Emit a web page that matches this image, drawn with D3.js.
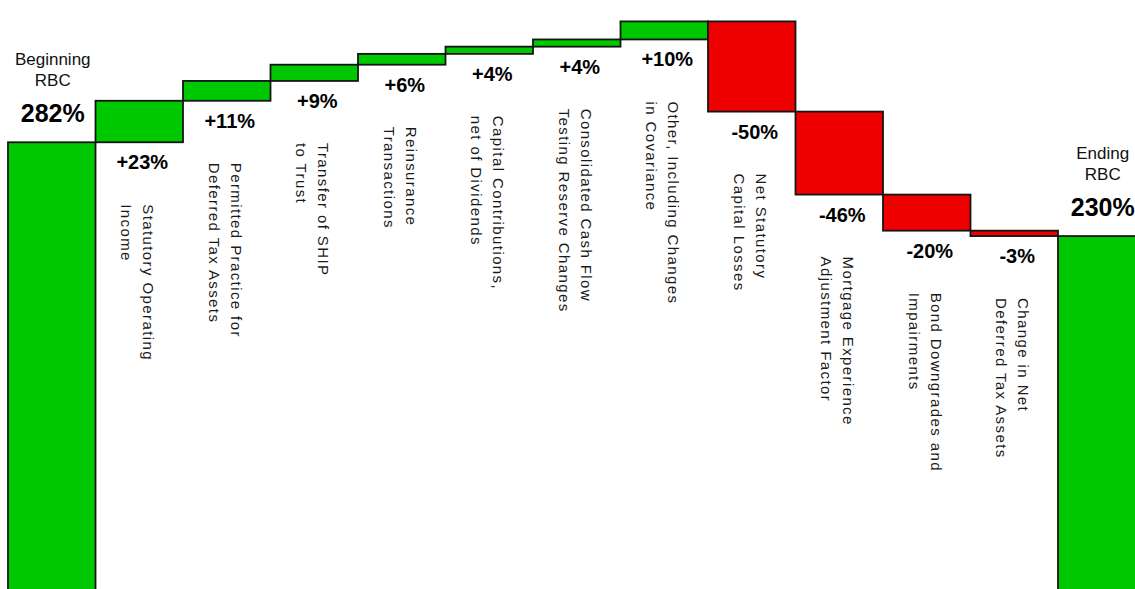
<!DOCTYPE html>
<html>
<head>
<meta charset="utf-8">
<script src="https://cdn.jsdelivr.net/npm/d3@7"></script>
<style>
  html, body { margin: 0; padding: 0; background: #fff; }
  svg { display: block; }
  text { font-family: "Liberation Sans", Arial, sans-serif; }
</style>
</head>
<body>
<svg id="chart" width="1135" height="589"></svg>
<script>
// ---- data ----
const categories = ["Beginning RBC", "Statutory Operating Income", "Permitted Practice", "Transfer of SHIP",
  "Reinsurance", "Capital Contributions", "Consolidated Cash Flow", "Other", "Net Statutory Capital Losses",
  "Mortgage Experience", "Bond Downgrades", "Change in Net DTA", "Ending RBC"];
const values = [282, 23, 11, 9, 6, 4, 4, 10, -50, -46, -20, -3, 230];
const kinds = ["total", "delta", "delta", "delta", "delta", "delta", "delta", "delta", "delta", "delta", "delta", "delta", "total"];
const valueLabels = ["282%", "+23%", "+11%", "+9%", "+6%", "+4%", "+4%", "+10%", "-50%", "-46%", "-20%", "-3%", "230%"];
const labelLine1 = ["", "Statutory Operating", "Permitted Practice for", "Transfer of SHIP", "Reinsurance",
  "Capital Contributions,", "Consolidated Cash Flow", "Other, Including Changes", "Net Statutory",
  "Mortgage Experience", "Bond Downgrades and", "Change in Net", ""];
const labelLine2 = ["", "Income", "Deferred Tax Assets", "to Trust", "Transactions", "net of Dividends",
  "Testing Reserve Changes", "in Covariance", "Capital Losses", "Adjustment Factor", "Impairments",
  "Deferred Tax Assets", ""];
const totalTitles = [["Beginning", "RBC"], ["Ending", "RBC"]];

// ---- layout ----
const svg = d3.select("#chart");
const x = d3.scaleBand().domain(categories).range([8, 1145.5]).padding(0);
const y = d3.scaleLinear().domain([0, 349]).range([651, 21.4]);

// compute waterfall extents
let cum = 0;
const bars = categories.map((c, i) => {
  let lo, hi;
  if (kinds[i] === "total") { lo = 0; hi = values[i]; cum = values[i]; }
  else { const prev = cum; cum = prev + values[i]; lo = Math.min(prev, cum); hi = Math.max(prev, cum); }
  return { cat: c, i, lo, hi, v: values[i], kind: kinds[i] };
});

const green = "#00c800", red = "#ee0000";

svg.selectAll("rect.bar").data(bars).enter().append("rect")
  .attr("class", "bar")
  .attr("x", d => x(d.cat))
  .attr("width", x.bandwidth())
  .attr("y", d => y(d.hi))
  .attr("height", d => y(d.lo) - y(d.hi))
  .attr("fill", d => d.v >= 0 ? green : red)
  .attr("stroke", "#141414")
  .attr("stroke-width", 1.8);

// value labels for deltas
const deltas = bars.filter(d => d.kind === "delta");
svg.selectAll("text.val").data(deltas).enter().append("text")
  .attr("class", "val")
  .attr("x", d => x(d.cat) + x.bandwidth() / 2 + 3)
  .attr("y", d => y(d.lo) + 27)
  .attr("text-anchor", "middle")
  .attr("font-size", 20)
  .attr("font-weight", "bold")
  .attr("fill", "#000")
  .text(d => valueLabels[d.i]);

// category labels (rotated)
const cl = svg.selectAll("text.cat").data(deltas).enter().append("text")
  .attr("class", "cat")
  .attr("transform", d => `translate(${x(d.cat) + x.bandwidth() / 2 + 4},${y(d.lo) + 62}) rotate(90)`)
  .attr("font-size", 15)
  .attr("letter-spacing", 1.4)
  .attr("fill", "#1a1a1a");
cl.append("tspan").attr("x", 0).attr("dy", 0).text(d => labelLine1[d.i]);
cl.append("tspan").attr("x", 0).attr("dy", 22).text(d => labelLine2[d.i]);

// totals
const totals = bars.filter(d => d.kind === "total");
totals.forEach((d, k) => {
  const cx = x(d.cat) + x.bandwidth() / 2 + 1;
  const top = y(d.hi);
  svg.append("text").attr("x", cx).attr("y", top - 77).attr("text-anchor", "middle")
    .attr("font-size", 17).attr("fill", "#111").text(totalTitles[k][0]);
  svg.append("text").attr("x", cx).attr("y", top - 56).attr("text-anchor", "middle")
    .attr("font-size", 17).attr("fill", "#111").text(totalTitles[k][1]);
  svg.append("text").attr("x", cx).attr("y", top - 20).attr("text-anchor", "middle")
    .attr("font-size", 25).attr("font-weight", "bold").attr("fill", "#000").text(valueLabels[d.i]);
});
</script>
</body>
</html>
